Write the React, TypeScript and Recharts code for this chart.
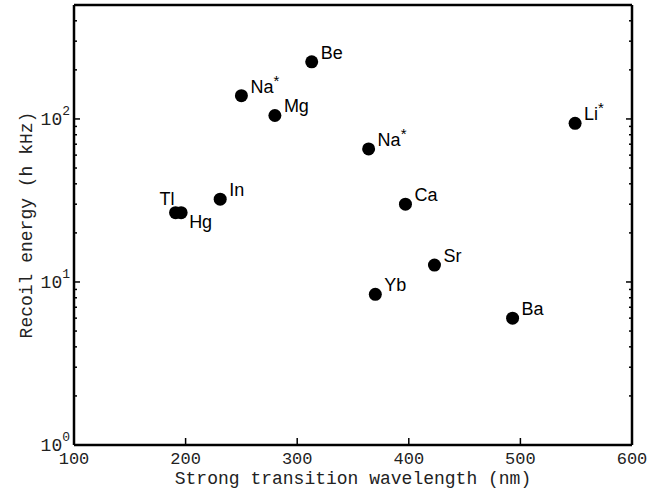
import { ScatterChart, Scatter, XAxis, YAxis } from 'recharts';

const elements = ['Be', 'Na*', 'Mg', 'In', 'Tl', 'Hg', 'Na*', 'Li*', 'Ca', 'Sr', 'Yb', 'Ba'];
const wavelengthNm = [313, 250, 280, 231, 191, 196, 364, 549, 397, 423, 370, 493];
const recoilKHz = [224, 139, 105, 32.2, 26.6, 26.6, 65.5, 94, 30, 12.7, 8.4, 6.0];

const xTicks = [100, 200, 300, 400, 500, 600];
const yTicks = [1, 2, 3, 4, 5, 6, 7, 8, 9, 10, 20, 30, 40, 50, 60, 70, 80, 90, 100, 200, 300, 400, 500];

const points = elements.map((name, i) => ({ name, x: wavelengthNm[i], y: recoilKHz[i] }));

const MONO = '"Liberation Mono", "Courier New", monospace';
const SANS = '"Liberation Sans", Arial, sans-serif';

const isDecade = (v: number) => Math.abs(Math.log10(v) - Math.round(Math.log10(v))) < 1e-9;

// label tweaks for the two overlapping points
const placement: Record<string, { dx: number; dy: number; anchor: 'start' | 'end' }> = {
  Tl: { dx: -1, dy: -8, anchor: 'end' },
  Hg: { dx: 8, dy: 15, anchor: 'start' },
};

const BottomTick = ({ x, y, payload }: any) => (
  <g>
    <line x1={x} x2={x} y1={y} y2={y - 7} stroke="#000" strokeWidth={1.5} />
    <text x={x} y={y + 19} textAnchor="middle" fontFamily={MONO} fontSize={17} fill="#222">
      {payload.value}
    </text>
  </g>
);

const TopTick = ({ x, y }: any) => (
  <line x1={x} x2={x} y1={y} y2={y + 7} stroke="#000" strokeWidth={1.5} />
);

const LeftTick = ({ x, y, payload }: any) => {
  const major = isDecade(payload.value);
  return (
    <g>
      <line x1={x} x2={x + (major ? 6 : 3)} y1={y} y2={y} stroke="#000" strokeWidth={1.5} />
      {major && (
        <text x={x - 4} y={y + 6} textAnchor="end" fontFamily={MONO} fontSize={18} fill="#222">
          10
          <tspan dy={-10} fontSize={13}>
            {Math.round(Math.log10(payload.value))}
          </tspan>
        </text>
      )}
    </g>
  );
};

const RightTick = ({ x, y, payload }: any) => {
  const major = isDecade(payload.value);
  return <line x1={x} x2={x - (major ? 6 : 3)} y1={y} y2={y} stroke="#000" strokeWidth={1.5} />;
};

const Dot = ({ cx, cy, payload }: any) => {
  const p = placement[payload.name] || { dx: 9, dy: -3, anchor: 'start' };
  const star = payload.name.endsWith('*');
  const base = star ? payload.name.slice(0, -1) : payload.name;
  return (
    <g>
      <circle cx={cx} cy={cy} r={6.5} fill="#000" />
      <text x={cx + p.dx} y={cy + p.dy} textAnchor={p.anchor} fontFamily={SANS} fontSize={18} fill="#000">
        {base}
        {star && (
          <tspan dy={-7} fontSize={15}>
            *
          </tspan>
        )}
      </text>
    </g>
  );
};

const App = () => {
  return (
    <div style={{ position: 'absolute', left: 0, top: 0, width: 662, height: 490, background: '#fff' }}>
      <ScatterChart width={662} height={490} margin={{ top: 4, right: 29, bottom: 0, left: 0 }}>
        <XAxis
          dataKey="x"
          type="number"
          domain={[100, 600]}
          ticks={xTicks}
          interval={0}
          height={45}
          tickSize={0}
          tickMargin={0}
          tickLine={false}
          tick={<BottomTick />}
          axisLine={{ stroke: '#000', strokeWidth: 2.5 }}
          label={{
            content: ({ viewBox }: any) => (
              <text
                x={viewBox.x + viewBox.width / 2}
                y={viewBox.y + 39}
                textAnchor="middle"
                fontFamily={MONO}
                fontSize={18}
                fill="#222"
              >
                Strong transition wavelength (nm)
              </text>
            ),
          }}
        />
        <XAxis
          xAxisId="top"
          orientation="top"
          type="number"
          domain={[100, 600]}
          ticks={xTicks}
          interval={0}
          height={1}
          tickSize={0}
          tickMargin={0}
          tickLine={false}
          tick={<TopTick />}
          axisLine={{ stroke: '#000', strokeWidth: 2.5 }}
        />
        <YAxis
          dataKey="y"
          type="number"
          scale="log"
          domain={[1, 500]}
          allowDataOverflow
          ticks={yTicks}
          interval={0}
          width={74}
          tickSize={0}
          tickMargin={0}
          tickLine={false}
          tick={<LeftTick />}
          axisLine={{ stroke: '#000', strokeWidth: 2.5 }}
          label={{
            content: ({ viewBox }: any) => (
              <text
                transform={`translate(${viewBox.x + 32}, ${viewBox.y + viewBox.height / 2}) rotate(-90)`}
                textAnchor="middle"
                fontFamily={MONO}
                fontSize={18}
                fill="#222"
              >
                Recoil energy (h kHz)
              </text>
            ),
          }}
        />
        <YAxis
          yAxisId="right"
          orientation="right"
          type="number"
          scale="log"
          domain={[1, 500]}
          allowDataOverflow
          ticks={yTicks}
          interval={0}
          width={1}
          tickSize={0}
          tickMargin={0}
          tickLine={false}
          tick={<RightTick />}
          axisLine={{ stroke: '#000', strokeWidth: 2.5 }}
        />
        <Scatter data={points} shape={<Dot />} isAnimationActive={false} />
      </ScatterChart>
    </div>
  );
};

export default App;
